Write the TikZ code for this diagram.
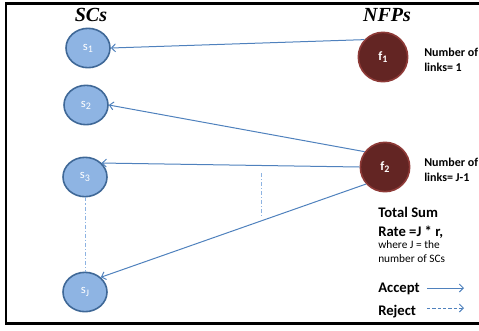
\documentclass[tikz,border=0pt]{standalone}
\usepackage{fontspec}
\setmainfont{Carlito}
\newfontfamily\headfont{Liberation Serif}
\usetikzlibrary{arrows.meta,positioning,shapes.geometric}
\definecolor{scblue}{HTML}{8EB4E3}
\definecolor{scedge}{HTML}{3F6897}
\definecolor{nfpred}{HTML}{632523}
\definecolor{nfpedge}{HTML}{8E3A37}
\definecolor{linkblue}{HTML}{4F81BD}
\definecolor{dotblue}{HTML}{8DB3E2}
\newcommand{\idx}[1]{\raisebox{-0.35ex}{\fontsize{7.5}{8}\selectfont #1}}

\begin{document}
\begin{tikzpicture}[x=0.75pt, y=-0.75pt,
    sc/.style={ellipse, draw=scedge, line width=1.2pt, fill=scblue, minimum width=33pt, minimum height=29.5pt, inner sep=0pt, text=white, font=\fontsize{9.5}{10}\selectfont},
    nfp/.style={circle, draw=nfpedge, line width=1.2pt, fill=nfpred, minimum size=37pt, inner sep=0pt, text=white, font=\fontsize{9.5}{10}\selectfont\bfseries},
    head/.style={font=\headfont\fontsize{15}{17}\selectfont\bfseries\itshape, anchor=base},
    links/.style={font=\fontsize{9}{11}\selectfont\bfseries, align=left, anchor=north west, inner sep=0pt},
    legend/.style={font=\fontsize{11}{14}\selectfont\bfseries, anchor=base west, inner sep=0pt},
    accept/.style={draw=linkblue, line width=0.75pt, -{Straight Barb[length=3pt,width=6pt]}},
    reject/.style={accept, dash pattern=on 2.5pt off 1.5pt},
    guide/.style={draw=dotblue, line width=0.75pt, dash pattern=on 3pt off 1.5pt on 0.8pt off 1.5pt}
]
    \useasboundingbox (0,0) rectangle (479,330);
    % frame
    \draw[line width=2.2pt] (480,3.5) -- (6,3.5) -- (6,323.5) -- (480,323.5);

    % column titles
    \node[head] (schead) at (91,21) {SCs};
    \node[head] (nfphead) at (387,21) {NFPs};

    % SCs
    \node[sc] (s1) at (88,48) {s\idx{1}};
    \node[sc] (s2) at (86,105) {s\idx{2}};
    \node[sc] (s3) at (85,177) {s\idx{3}};
    \node[sc] (sJ) at (85,292) {s\idx{J}};

    % NFPs
    \node[nfp] (f1) at (383,57) {f\idx{1}};
    \node[nfp] (f2) at (385,167) {f\idx{2}};

    % notes
    \node[links] (f1links) at (424,48) {Number of\\links= 1};
    \node[links] (f2links) at (424,158) {Number of\\links= J-1};
    \node[links, font=\fontsize{11}{14}\selectfont\bfseries] (sumrate) at (378,207) {Total Sum\\Rate =J * r,};
    \node[links, font=\fontsize{8.5}{11}\selectfont] (where) at (378,240) {where J = the\\number of SCs};

    % links
    \draw[accept] (f1.137) -- (s1.east);
    \draw[accept] (f2.143) -- (s2.east);
    \draw[accept] (f2.west) -- (s3.40);
    \draw[accept] (f2.222) -- (sJ.43);

    % dotted guides
    \draw[guide] (s3) -- (sJ);
    \coordinate (gtop) at (261,173);
    \coordinate (gbot) at (261,217);
    \draw[guide] (gtop) -- (gbot);

    % legend
    \node[legend] (acc) at (378,292) {Accept};
    \node[legend] (rej) at (378,315) {Reject};
    \coordinate (acc-a) at (427,288);
    \coordinate (acc-b) at (464,288);
    \coordinate (rej-a) at (427,308);
    \coordinate (rej-b) at (464,308);
    \draw[accept] (acc-a) -- (acc-b);
    \draw[reject] (rej-a) -- (rej-b);
\end{tikzpicture}
\end{document}
